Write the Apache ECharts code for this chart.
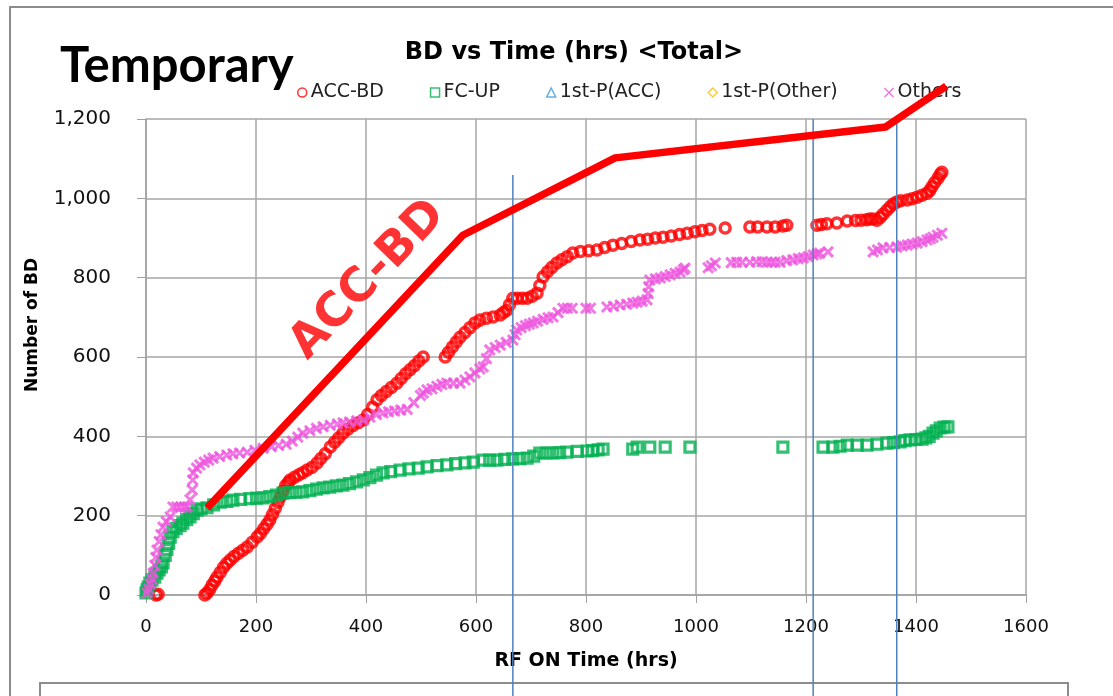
<!DOCTYPE html>
<html>
<head>
<meta charset="utf-8">
<title>BD vs Time</title>
<script src="https://cdn.jsdelivr.net/npm/echarts@6/dist/echarts.min.js"></script>
<style>
html, body { margin: 0; padding: 0; background: #fff; }
#myChart { width: 1113px; height: 696px; }
</style>
</head>
<body>
<div id="myChart"></div>
<script>
// values: [RF ON hrs, number of BD]
const accBD = [
  [18, 0], [22, 2],
  [107, 0], [111, 5], [116, 14], [120, 25], [125, 35], [129, 45], [135, 57], [141, 70], [147, 80], [153, 88],
  [160, 97], [168, 105], [176, 113], [184, 121], [193, 133], [202, 146], [208, 155], [214, 167], [220, 178],
  [225, 189], [230, 203], [235, 218], [240, 234], [244, 247], [249, 262], [254, 276], [259, 284], [262, 290],
  [270, 297], [278, 303], [285, 308], [293, 315], [302, 322], [311, 333], [318, 344], [326, 356], [335, 373],
  [343, 385], [350, 396], [358, 408], [367, 418], [376, 427], [386, 434], [395, 441], [403, 455], [412, 474],
  [420, 492], [428, 503], [437, 513], [446, 523], [456, 534], [464, 546], [472, 558], [480, 568], [488, 578],
  [496, 590], [504, 600],
  [544, 600], [550, 612], [557, 625], [564, 638], [571, 650], [580, 662], [589, 674], [598, 686], [607, 693],
  [619, 698], [631, 701], [644, 706], [650, 712], [656, 718], [661, 732], [667, 748], [675, 748], [684, 748],
  [693, 748], [702, 753], [711, 761], [716, 780], [722, 802], [730, 815], [738, 826], [747, 837], [756, 845],
  [766, 853], [776, 862], [790, 866], [805, 868], [820, 870], [834, 876], [849, 882], [865, 886], [882, 891],
  [898, 895], [912, 897], [926, 900], [940, 902], [955, 905], [970, 909], [984, 912], [998, 916], [1011, 919],
  [1025, 922], [1053, 925], [1098, 928], [1112, 928], [1129, 928], [1144, 928], [1158, 930], [1165, 932],
  [1220, 932], [1228, 934], [1238, 936], [1256, 938], [1275, 943], [1290, 944], [1300, 945], [1310, 946],
  [1316, 948], [1322, 948], [1329, 945], [1335, 952], [1340, 960], [1347, 970], [1353, 979], [1359, 986],
  [1365, 991], [1372, 994], [1384, 996], [1393, 999], [1402, 1003], [1411, 1008], [1420, 1013], [1425, 1020],
  [1429, 1029], [1434, 1040], [1440, 1051], [1444, 1060], [1447, 1066]
]
const fcUP = [
  [0, 5], [2, 13], [4, 20], [7, 30], [11, 38], [16, 45], [20, 55], [24, 63], [28, 71], [31, 81], [35, 100],
  [38, 115], [41, 130], [44, 146], [49, 160], [55, 168], [62, 175], [67, 181], [74, 190], [80, 197], [86, 205],
  [93, 214], [100, 217], [111, 220], [123, 227], [135, 234], [147, 236], [158, 239], [172, 241], [189, 243],
  [201, 244], [213, 245], [225, 248], [237, 252], [249, 257], [261, 258], [273, 259], [285, 260], [298, 263],
  [310, 267], [322, 270], [334, 272], [346, 275], [358, 277], [370, 281], [383, 285], [395, 290], [407, 296],
  [419, 302], [431, 308], [445, 311], [462, 315], [478, 318], [495, 320], [511, 323], [529, 326], [547, 328],
  [563, 331], [580, 333], [595, 335], [613, 340], [625, 340], [638, 340], [652, 342], [667, 343], [680, 344],
  [693, 345], [705, 350], [716, 358], [728, 358], [740, 358], [752, 359], [765, 360], [784, 362], [802, 363],
  [812, 364], [822, 366], [831, 368], [885, 368], [893, 373], [916, 373], [944, 373], [989, 373], [1158, 373],
  [1231, 373], [1249, 373], [1262, 375], [1275, 378], [1293, 378], [1311, 378], [1329, 380], [1347, 383],
  [1359, 384], [1371, 386], [1380, 389], [1389, 391], [1400, 392], [1411, 393], [1418, 396], [1424, 400],
  [1431, 408], [1437, 414], [1444, 421], [1451, 423], [1458, 424]
]
const firstPAcc = []
const firstPOther = []
const others = [
  [2, 5], [5, 15], [8, 28], [11, 40], [13, 55], [16, 75], [18, 95], [20, 113], [24, 135], [27, 152], [31, 171],
  [37, 185], [44, 197], [49, 222], [56, 222], [63, 222], [70, 222], [75, 222], [80, 240], [84, 265], [85, 290],
  [86, 308], [92, 320], [98, 328], [106, 335], [114, 340], [122, 345], [134, 349], [147, 353], [158, 356],
  [170, 358], [184, 360], [198, 365], [213, 370], [228, 374], [241, 377], [255, 380], [266, 388], [276, 398],
  [285, 408], [298, 414], [310, 420], [322, 424], [335, 428], [348, 431], [358, 434], [370, 436], [383, 439],
  [395, 441], [407, 448], [419, 455], [431, 459], [441, 462], [452, 464], [463, 466], [475, 468], [487, 485],
  [499, 503], [504, 509], [511, 517], [520, 520], [529, 526], [538, 531], [547, 534], [559, 534], [571, 534],
  [580, 542], [589, 550], [598, 560], [607, 570], [613, 575], [619, 596], [625, 618], [635, 624], [644, 630],
  [655, 637], [667, 643], [671, 656], [674, 668], [682, 674], [690, 679], [697, 683], [704, 686], [712, 690],
  [722, 695], [731, 699], [740, 701], [749, 712], [758, 723], [766, 723], [775, 723], [800, 723], [808, 723],
  [838, 726], [850, 728], [862, 731], [874, 733], [885, 736], [893, 738], [902, 741], [911, 744], [913, 760],
  [914, 777], [916, 794], [926, 797], [935, 799], [944, 803], [953, 807], [962, 811], [971, 814], [977, 820],
  [980, 824],
  [1022, 825], [1028, 830], [1035, 837], [1064, 838], [1074, 839], [1084, 839], [1098, 839], [1110, 840],
  [1120, 840], [1129, 839], [1137, 839], [1144, 839], [1153, 839], [1165, 843], [1176, 845], [1186, 848],
  [1195, 850], [1204, 853], [1213, 857], [1220, 860], [1225, 862], [1240, 865],
  [1322, 865], [1330, 870], [1340, 875], [1352, 876], [1365, 877], [1375, 880], [1384, 882], [1393, 885],
  [1402, 887], [1411, 891], [1420, 895], [1426, 898], [1431, 902], [1439, 907], [1447, 912]
]
// hand drawn ACC-BD trend over the plot
const accTrend = [[111, 219], [576, 907], [853, 1102], [1345, 1180], [1455, 1283]]
const accNoteAt = [[404, 794]]
// vertical marker lines (hrs), their top value and common bottom value
const markerHrs = [667, 1213, 1365]
const markerTop = [1059, 1200, 1200]
const markerBottom = -260

const legendNames = ['ACC-BD', 'FC-UP', '1st-P(ACC)', '1st-P(Other)', 'Others']
const xTicks = [0, 1600, 200]
const yTicks = [0, 1200, 200]

const FONT = 'DejaVu Sans'
const hollow = function (c, w) {
  return { color: 'rgba(255,255,255,0)', borderColor: c, borderWidth: w }
}

let myChart = echarts.init(document.getElementById('myChart'))

let markerSeries = markerHrs.map(function (h, i) {
  return {
    name: 'marker' + i,
    type: 'line',
    data: [[h, markerTop[i]], [h, markerBottom]],
    symbol: 'none',
    clip: false,
    silent: true,
    z: 6,
    lineStyle: { color: '#4f81bd', width: 1.5 }
  }
})

myChart.setOption({
  animation: false,
  title: {
    text: 'BD vs Time (hrs) <Total>',
    left: 569,
    textAlign: 'center',
    top: 36,
    textStyle: { fontFamily: FONT, fontSize: 24, fontWeight: 'bold', color: '#000' }
  },
  legend: {
    data: legendNames,
    left: 292,
    top: 78,
    itemWidth: 9,
    itemHeight: 9,
    itemGap: 46,
    itemStyle: { borderWidth: 1.5 },
    textStyle: { fontFamily: FONT, fontSize: 19, color: '#222', padding: [0, 0, 0, -1] }
  },
  grid: { left: 146, top: 119, width: 880, height: 476 },
  xAxis: {
    type: 'value',
    min: xTicks[0],
    max: xTicks[1],
    interval: xTicks[2],
    name: 'RF ON Time (hrs)',
    nameLocation: 'middle',
    nameGap: 57,
    nameTextStyle: { fontFamily: FONT, fontSize: 19, fontWeight: 'bold', color: '#000' },
    axisLine: { lineStyle: { color: '#a0a0a0', width: 1.5 } },
    axisTick: { show: true, length: 8, lineStyle: { color: '#a0a0a0' } },
    axisLabel: {
      fontFamily: FONT,
      fontSize: 18,
      color: '#111',
      margin: 23,
      formatter: function (v) { return String(v) }
    },
    splitLine: { show: true, lineStyle: { color: '#a6a6a6', width: 1.5 } }
  },
  yAxis: {
    type: 'value',
    min: yTicks[0],
    max: yTicks[1],
    interval: yTicks[2],
    axisLine: { show: true, lineStyle: { color: '#a0a0a0', width: 1.5 } },
    axisTick: { show: true, length: 9, lineStyle: { color: '#a0a0a0' } },
    axisLabel: {
      fontFamily: FONT,
      fontSize: 20,
      color: '#111',
      margin: 35,
      formatter: function (v) { return v.toLocaleString('en-US') }
    },
    splitLine: { show: true, lineStyle: { color: '#a6a6a6', width: 1.5 } }
  },
  graphic: [
    {
      type: 'rect',
      shape: { x: 10, y: 7, width: 1130, height: 720 },
      style: { fill: 'none', stroke: '#8c8c8c', lineWidth: 2 },
      silent: true
    },
    {
      type: 'rect',
      shape: { x: 40, y: 683, width: 1028, height: 40 },
      style: { fill: 'none', stroke: '#8c8c8c', lineWidth: 2 },
      silent: true
    },
    {
      type: 'text',
      left: 60,
      top: 42,
      style: { text: 'Temporary', fontFamily: 'Lato', fontSize: 49, fontWeight: 'bold', fill: '#000' }
    },
    {
      type: 'text',
      x: 33,
      y: 325,
      rotation: Math.PI / 2,
      style: {
        text: 'Number of BD',
        fontFamily: FONT,
        fontSize: 17,
        fontWeight: 'bold',
        fill: '#000',
        align: 'center',
        verticalAlign: 'middle'
      }
    }
  ],
  series: [
    {
      name: 'ACC-BD',
      type: 'scatter',
      data: accBD,
      symbol: 'circle',
      symbolSize: 10,
      itemStyle: hollow('#ff0000', 3.5)
    },
    {
      name: 'FC-UP',
      type: 'scatter',
      data: fcUP,
      symbol: 'rect',
      symbolSize: 10,
      itemStyle: hollow('#00b050', 3.2)
    },
    {
      name: '1st-P(ACC)',
      type: 'scatter',
      data: firstPAcc,
      symbol: 'triangle',
      symbolSize: 9,
      itemStyle: hollow('#3f9be0', 1.5)
    },
    {
      name: '1st-P(Other)',
      type: 'scatter',
      data: firstPOther,
      symbol: 'diamond',
      symbolSize: 10,
      itemStyle: hollow('#ffc000', 1.5)
    },
    {
      name: 'Others',
      type: 'scatter',
      data: others,
      symbol: 'path://M0,0L10,10M0,10L10,0',
      symbolSize: 10,
      itemStyle: hollow('#ee55dd', 3)
    },
    {
      name: 'trend',
      type: 'line',
      data: accTrend,
      symbol: 'none',
      clip: false,
      silent: true,
      z: 8,
      lineStyle: { color: '#ff0000', width: 7.5 }
    },
    {
      name: 'note',
      type: 'scatter',
      data: accNoteAt,
      symbolSize: 0,
      silent: true,
      z: 8,
      label: {
        show: true,
        position: 'inside',
        formatter: 'ACC-BD',
        rotate: 46,
        fontFamily: FONT,
        fontSize: 47,
        fontWeight: 'bold',
        color: '#ff0000'
      }
    }
  ].concat(markerSeries)
})
</script>
</body>
</html>
